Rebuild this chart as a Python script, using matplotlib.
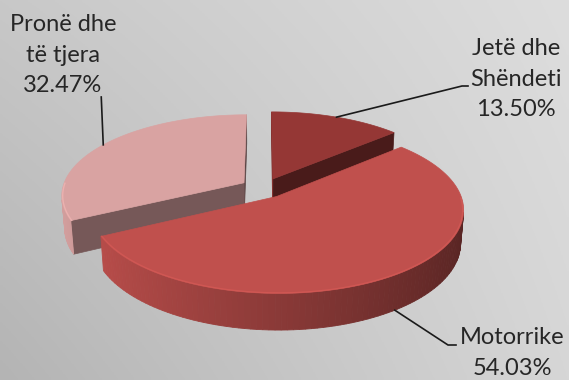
import numpy as np
import matplotlib.pyplot as plt
from matplotlib.patches import Polygon

# data
labels = ['Jetë dhe\nShëndeti', 'Motorrike', 'Pronë dhe\ntë tjera']
shares = [13.50, 54.03, 32.47]
top_colors = ['#953735', '#C0504D', '#D9A3A2']

# view / projection settings
D = 6.0            # camera distance
ELEV = np.deg2rad(26)
S_, C_ = np.sin(ELEV), np.cos(ELEV)
SCALE = 181.6      # px per radius
CX, CY = 263.5, 188.0
H = 0.2            # pie thickness
EXPL = 0.127


def proj(x, y, z):
    depth = D + y * C_ - z * S_
    f = D / depth
    return CX + SCALE * x * f, CY - SCALE * (y * S_ + z * C_) * f


def visible(nx, ny, px, py):
    # camera sits at (0, -D*cos, D*sin)
    return nx * (0 - px) + ny * (-D * C_ - py) > 0


def shade(rgb, ang, extra=1.0):
    k = (0.72 - 0.26 * np.cos(ang)) * extra
    return tuple(min(1, c * k) for c in rgb)


def hex2rgb(h):
    return tuple(int(h[i:i + 2], 16) / 255 for i in (1, 3, 5))


fig = plt.figure(figsize=(5.69, 3.80), dpi=100)
ax = fig.add_axes([0, 0, 1, 1])
ax.set_xlim(0, 569)
ax.set_ylim(380, 0)
ax.axis('off')

# background gradient
gx, gy = np.meshgrid(np.linspace(0, 1, 200), np.linspace(0, 1, 140))
tl, tr, bl, br = 200, 221, 180, 214
bg = (tl * (1 - gx) * (1 - gy) + tr * gx * (1 - gy) + bl * (1 - gx) * gy + br * gx * gy) / 255
ax.imshow(np.dstack([bg, bg, bg]), extent=[0, 569, 380, 0], aspect='auto', zorder=0)

# slice angles: start at 12 o'clock, go clockwise
bounds = 90 - np.cumsum([0] + shares) * 3.6
slices = []
for i, lab in enumerate(labels):
    a2, a1 = np.deg2rad(bounds[i]), np.deg2rad(bounds[i + 1])
    mid = (a1 + a2) / 2
    ox, oy = EXPL * np.cos(mid), EXPL * np.sin(mid)
    slices.append((a1, a2, mid, ox, oy, hex2rgb(top_colors[i])))

# draw back to front: Jetë, Pronë, Motorrike
order = [0, 2, 1]
z = 1
for i in order:
    a1, a2, mid, ox, oy, rgb = slices[i]
    ts = np.linspace(a1, a2, 120)
    # radial faces
    for ang, nang in ((a1, a1 - np.pi / 2), (a2, a2 + np.pi / 2)):
        ex, ey = ox + np.cos(ang), oy + np.sin(ang)
        if visible(np.cos(nang), np.sin(nang), (ox + ex) / 2, (oy + ey) / 2):
            col = shade(rgb, nang, 0.9)
            pts = [proj(ox, oy, 0), proj(ex, ey, 0), proj(ex, ey, -H), proj(ox, oy, -H)]
            ax.add_patch(Polygon(pts, closed=True, fc=col, ec=col, lw=0.5, zorder=z))
    z += 1
    # outer curved side
    for t0, t1 in zip(ts[:-1], ts[1:]):
        tm = (t0 + t1) / 2
        px, py = ox + np.cos(tm), oy + np.sin(tm)
        if not visible(np.cos(tm), np.sin(tm), px, py):
            continue
        pts = [proj(ox + np.cos(t0), oy + np.sin(t0), 0), proj(ox + np.cos(t1), oy + np.sin(t1), 0),
               proj(ox + np.cos(t1), oy + np.sin(t1), -H), proj(ox + np.cos(t0), oy + np.sin(t0), -H)]
        col = shade(rgb, tm)
        ax.add_patch(Polygon(pts, closed=True, fc=col, ec=col, lw=0.6, zorder=z))
    z += 1
    # top surface
    top = [proj(ox, oy, 0)] + [proj(ox + np.cos(t), oy + np.sin(t), 0) for t in ts]
    ax.add_patch(Polygon(top, closed=True, fc=rgb, ec=rgb, lw=0.5, zorder=z))
    # light rim along the front edge
    front = [t for t in ts if np.sin(t) < 0]
    if front:
        rim = np.array([proj(ox + 0.995 * np.cos(t), oy + 0.995 * np.sin(t), 0) for t in front])
        ax.plot(rim[:, 0], rim[:, 1], color=tuple(min(1, c * 1.12) for c in rgb), lw=1.0,
                alpha=0.7, zorder=z)
    z += 1

# labels with leader lines
txt = dict(fontsize=17, family=['Lato', 'DejaVu Sans'], color='#262626', ha='center',
           va='center', linespacing=1.55, zorder=20)


def pct(v):
    return f'{v:.2f}%'


# Jetë dhe Shëndeti
a1, a2, mid, ox, oy, _ = slices[0]
p0 = proj(ox + np.cos(mid), oy + np.sin(mid), 0)
ax.plot([p0[0], 462, 468], [p0[1], 86, 86], color='#1a1a1a', lw=1.2, zorder=20)
ax.text(516, 79, labels[0] + '\n' + pct(shares[0]), **txt)

# Motorrike
a1, a2, mid, ox, oy, _ = slices[1]
p0 = proj(ox + np.cos(mid), oy + np.sin(mid), -H)
ax.plot([p0[0], 448, 456], [p0[1], 345, 345], color='#1a1a1a', lw=1.2, zorder=20)
ax.text(512, 353, labels[1] + '\n' + pct(shares[1]), **txt)

# Pronë dhe të tjera
a1, a2, mid, ox, oy, _ = slices[2]
p0 = proj(ox + np.cos(mid), oy + np.sin(mid), 0)
ax.plot([p0[0] - 2, p0[0]], [97, p0[1]], color='#1a1a1a', lw=1.2, zorder=20)
ax.text(63, 55, labels[2] + '\n' + pct(shares[2]), **txt)

fig.savefig('out.png', dpi=100)
